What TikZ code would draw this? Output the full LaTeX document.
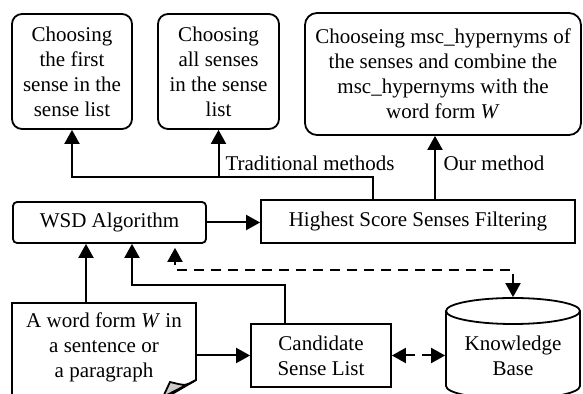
\documentclass[tikz,border=0pt]{standalone}
\usepackage{fontspec}
\setmainfont{Liberation Serif}
\usetikzlibrary{arrows.meta}

\tikzset{
  box/.style={draw, line width=0.9pt, align=center, inner sep=0pt},
  rbox/.style={box, rounded corners=5pt},
  arr/.style={-{Triangle[length=7pt,width=7.5pt]}, line width=1pt},
  darr/.style={{Triangle[length=7pt,width=7.5pt]}-{Triangle[length=7pt,width=7.5pt]}, line width=1pt, dash pattern=on 5pt off 3.5pt},
}

\begin{document}
\begin{tikzpicture}[x=0.5pt,y=-0.5pt,font=\fontsize{10.5}{12.5}\selectfont]
\clip (0,0) rectangle (583,394);
  % top row
  \node[rbox, minimum width=60pt, minimum height=57.5pt] (first) at (72,71.5) {Choosing\\the first\\sense in the\\sense list};
  \node[rbox, minimum width=60.5pt, minimum height=57.5pt] (all) at (218.5,71.5) {Choosing\\all senses\\in the sense\\list};
  \node[rbox, rounded corners=6pt, minimum width=138pt, minimum height=61pt] (ours) at (443,74) {Chooseing msc\_hypernyms of\\the senses and combine the\\msc\_hypernyms with the\\word form \textit{W}};

  %%%%%%% MIDDLE
  \node[rbox, rounded corners=2pt, minimum width=96.5pt, minimum height=20.5pt] (wsd) at (109.5,222.5) {WSD Algorithm};
  \node[box, minimum width=157pt, minimum height=21.5pt] (hssf) at (418,221.5) {Highest Score Senses Filtering};

  %%%%%%% BOTTOM
  \draw[line width=0.9pt] (12,400) -- (12,303) -- (196,303) -- (196,380) -- (160,401);
  \filldraw[fill=gray!40, line width=0.9pt] (196,380) .. controls (186,386) .. (170,382) -- (163,397) -- cycle;
  \node[box, draw=none, minimum width=92pt, minimum height=44pt] (doc) at (104,347) {A word form \textit{W} in\\a sentence or\\a paragraph};
  \node[box, minimum width=70pt, minimum height=31.5pt] (cand) at (321,355.5) {Candidate\\Sense List};
  \draw[line width=0.9pt] (446,311) -- (446,386) arc[start angle=180, end angle=0, x radius=67, y radius=13] -- (580,311);
  \draw[line width=0.9pt] (513,311) ellipse[x radius=67, y radius=13];
  \node[box, draw=none, minimum width=67pt, minimum height=58pt] (kb) at (513,356) {Knowledge\\Base};

  %%%%%%% ARROWS
  \draw[arr] ([xshift=-9pt]doc.north) -- ([xshift=-9pt]doc.north |- wsd.south);
  \draw[arr] ([xshift=-18pt]cand.north) -- ++(0,-38) -| ([xshift=11.25pt]wsd.south);
  \draw[darr, shorten >=2pt] (kb.north) -- ++(0,-27) -| ([xshift=32.75pt]wsd.south);
  \draw[arr] (doc.east |- cand.west) -- (cand.west);
  \draw[darr] (cand.east) -- (cand.east -| kb.west);
  \draw[arr] (wsd.east) -- (wsd.east -| hssf.west);
  \draw[arr] ([xshift=-22.5pt]hssf.north) -- ++(0,-22) coordinate (bend) -| (first.south);
  \draw[arr] (bend -| all.south) -- (all.south);
  \draw[arr] ([xshift=-4pt]ours.south |- hssf.north) -- ([xshift=-4pt]ours.south);
  \node (trad) at (310,163) {Traditional methods};
  \node (our) at (494,163) {Our method};
\end{tikzpicture}
\end{document}
